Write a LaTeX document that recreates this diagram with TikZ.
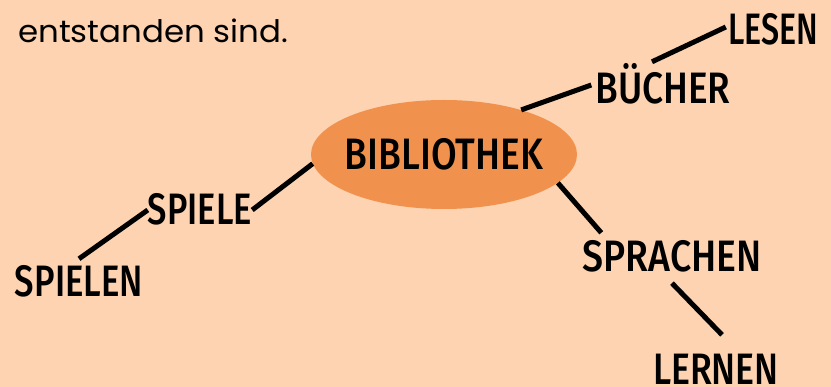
\documentclass[tikz,border=0pt]{standalone}
\usepackage{fontspec}
\setmainfont{Poppins}
\newfontfamily\wortfont{Fira Sans Medium}
\usetikzlibrary{shapes.geometric}

\definecolor{pfirsich}{HTML}{FDD3B1}
\definecolor{orangeton}{HTML}{F0924E}

% Wort in schmaler Grossschrift, auf feste Breite gebracht
\newcommand{\wort}[2]{\resizebox{#1}{\height}{\wortfont\fontsize{44}{44}\selectfont #2}}

\begin{document}
\begin{tikzpicture}[x=1pt,y=-1pt,
    wort/.style={inner sep=0pt,text height=30pt,text depth=0pt},
    ast/.style={line width=5pt}]
    % Hintergrund
    \fill[pfirsich] (0,0) rectangle (831,387);
    \useasboundingbox (0,0) rectangle (831,387);

    % Satzende oben links
    \node[anchor=base west,inner sep=0pt] (satz) at (18,43)
        {\resizebox{270pt}{\height}{\fontsize{31}{31}\selectfont entstanden sind.}};

    % Mitte
    \node[ellipse,fill=orangeton,minimum width=266pt,minimum height=109pt,wort] (bib) at (444,154.5)
        {\makebox[0pt]{\wort{198pt}{BIBLIOTHEK}}};

    % Woerter rundherum
    \node[wort] (buecher)  at (663,89)  {\wort{135pt}{BÜCHER}};
    \node[wort] (lesen)    at (773,30)  {\wort{90pt}{LESEN}};
    \node[wort] (spiele)   at (200,210) {\wort{104pt}{SPIELE}};
    \node[wort] (spielen)  at (79,282)  {\wort{128pt}{SPIELEN}};
    \node[wort] (sprachen) at (672,257) {\wort{179pt}{SPRACHEN}};
    \node[wort] (lernen)   at (716,370) {\wort{126pt}{LERNEN}};

    % Aeste
    \draw[ast] (bib.30) -- ([xshift=-4pt,yshift=4pt]buecher.west);
    \draw[ast] ([xshift=-11pt,yshift=12pt]buecher.north) -- ([xshift=-2pt,yshift=3pt]lesen.west);
    \draw[ast] (bib.184) -- (spiele.east);
    \draw[ast] (spiele.west) -- ([yshift=8pt]spielen.north);
    \draw[ast] (bib.-14) -- ([xshift=19pt,yshift=9pt]sprachen.north west);
    \draw[ast] ([yshift=-11pt]sprachen.south) -- ([xshift=6pt,yshift=20pt]lernen.north);
\end{tikzpicture}
\end{document}
